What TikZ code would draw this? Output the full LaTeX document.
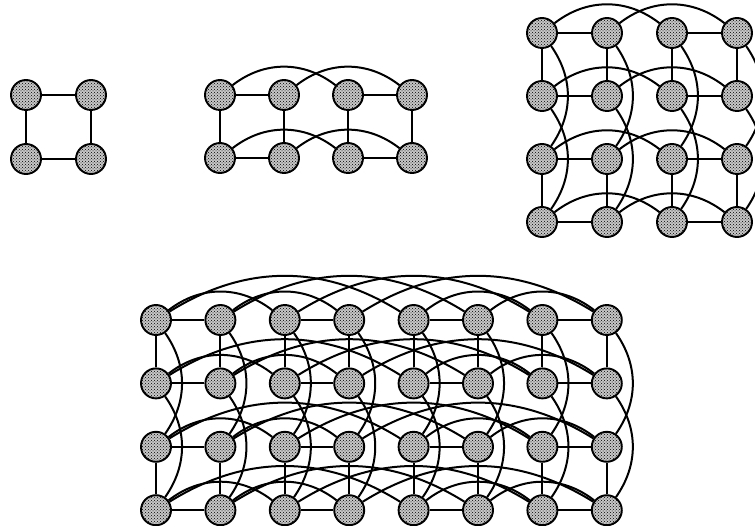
\documentclass[tikz,border=0pt]{standalone}
\usepackage{tikz}
\usetikzlibrary{patterns}
\pgfdeclarelayer{wires}
\pgfsetlayers{wires,main}

\begin{document}
\begin{tikzpicture}[
    x=1pt, y=1pt,
    pe/.style={
        circle,
        draw=black,
        line width=1.9pt,
        preaction={fill=black!22},
        pattern=crosshatch dots,
        minimum size=30pt,
        inner sep=0pt,
    },
    link/.style={line width=2pt, color=black},
    hop/.style={link, out=38, in=142},
    far/.style={link, out=32, in=148},
    drop/.style={link, out=-55, in=55}
]
\useasboundingbox (0,0) rectangle (755,-526);

\foreach \r in {1,2} \foreach \c in {1,2}
  \node[pe] (sq-\r-\c) at ({26+65*(\c-1)},{-95-64*(\r-1)}) {};
\foreach \r in {1,2} \foreach \c in {1,...,4}
  \node[pe] (cb-\r-\c) at ({220+64*(\c-1)},{-95-63*(\r-1)}) {};
\foreach \r in {1,...,4} \foreach \c in {1,...,4}
  \node[pe] (tq-\r-\c) at ({542+65*(\c-1)},{-33-63*(\r-1)}) {};
\foreach \r in {1,...,4} \foreach \c in {1,...,8}
  \node[pe] (hx-\r-\c) at ({156+64.4*(\c-1)},{-320-63.4*(\r-1)}) {};

\begin{pgfonlayer}{wires}
\draw[link] (sq-1-1) -- (sq-1-2) -- (sq-2-2) -- (sq-2-1) -- (sq-1-1);

\foreach \r in {1,2} {
  \draw[link] (cb-\r-1) -- (cb-\r-2);
  \draw[link] (cb-\r-3) -- (cb-\r-4);
  \draw[hop] (cb-\r-1) to (cb-\r-3);
  \draw[hop] (cb-\r-2) to (cb-\r-4);
}
\foreach \c in {1,...,4}
  \draw[link] (cb-1-\c) -- (cb-2-\c);

\foreach \r in {1,...,4} {
  \draw[link] (tq-\r-1) -- (tq-\r-2);
  \draw[link] (tq-\r-3) -- (tq-\r-4);
  \draw[hop] (tq-\r-1) to (tq-\r-3);
  \draw[hop] (tq-\r-2) to (tq-\r-4);
}
\foreach \c in {1,...,4} {
  \draw[link] (tq-1-\c) -- (tq-2-\c);
  \draw[link] (tq-3-\c) -- (tq-4-\c);
  \draw[drop] (tq-1-\c) to (tq-3-\c);
  \draw[drop] (tq-2-\c) to (tq-4-\c);
}

\foreach \r in {1,...,4} {
  \foreach \c in {1,3,5,7} {
    \pgfmathtruncatemacro\n{\c+1}
    \draw[link] (hx-\r-\c) -- (hx-\r-\n);
  }
  \foreach \c in {1,2,5,6} {
    \pgfmathtruncatemacro\n{\c+2}
    \draw[hop] (hx-\r-\c) to (hx-\r-\n);
  }
  \foreach \c in {1,...,4} {
    \pgfmathtruncatemacro\n{\c+4}
    \draw[far] (hx-\r-\c) to (hx-\r-\n);
  }
}
\foreach \c in {1,...,8} {
  \draw[link] (hx-1-\c) -- (hx-2-\c);
  \draw[link] (hx-3-\c) -- (hx-4-\c);
  \draw[drop] (hx-1-\c) to (hx-3-\c);
  \draw[drop] (hx-2-\c) to (hx-4-\c);
}
\end{pgfonlayer}
\end{tikzpicture}
\end{document}
